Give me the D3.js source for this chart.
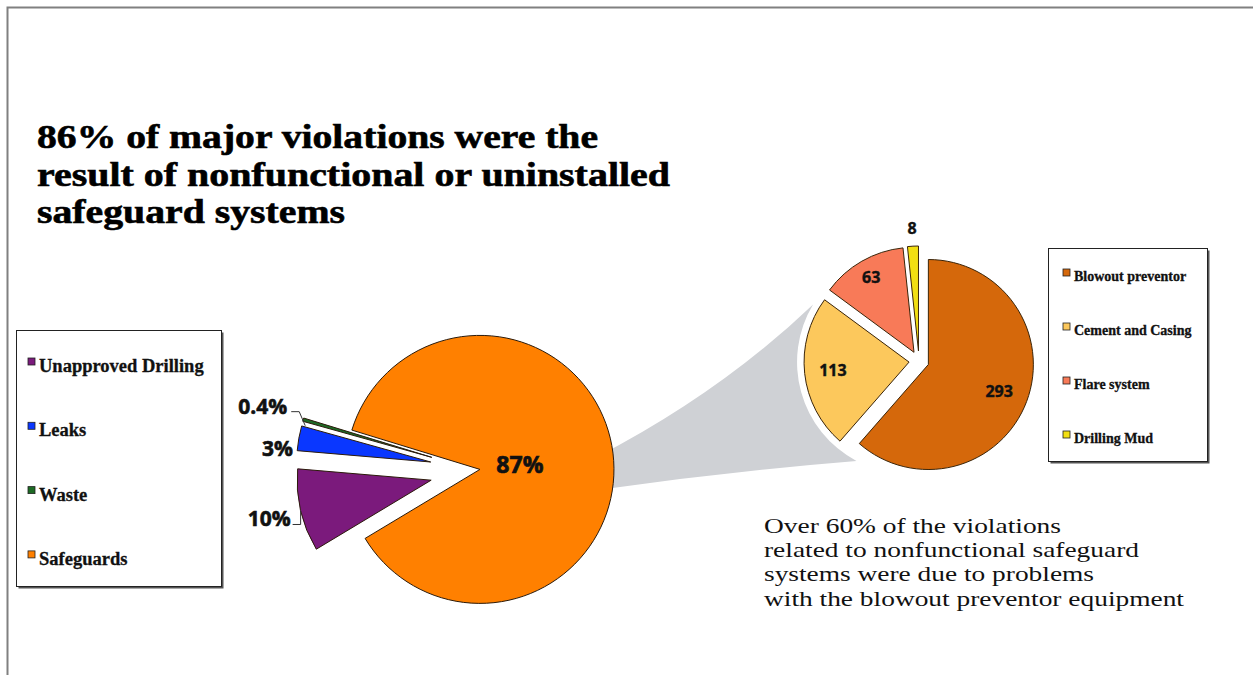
<!DOCTYPE html>
<html>
<head>
<meta charset="utf-8">
<script src="https://cdn.jsdelivr.net/npm/d3@7"></script>
<style>
  body { margin: 0; background: #fff; }
  svg { display: block; }
</style>
</head>
<body>
<script>
// Chart data.
const titleLines = [
  "86% of major violations were the",
  "result of nonfunctional or uninstalled",
  "safeguard systems"
];
const noteLines = [
  "Over 60% of the violations",
  "related to nonfunctional safeguard",
  "systems were due to problems",
  "with the blowout preventor equipment"
];
const mainCategories = ["Unapproved Drilling", "Leaks", "Waste", "Safeguards"];
const mainShares = [10, 3, 0.4, 87];
const mainLabels = ["10%", "3%", "0.4%", "87%"];
const subCategories = ["Blowout preventor", "Cement and Casing", "Flare system", "Drilling Mud"];
const subCounts = [293, 113, 63, 8];

const mainColors = ["#7b1a7c", "#0a37ff", "#1d6a24", "#ff8000"];
const subColors = ["#d5680b", "#fcc85c", "#f87a58", "#f2df12"];

const width = 1253, height = 675;
const rad = deg => deg * Math.PI / 180;

const svg = d3.select("body").append("svg")
  .attr("width", width)
  .attr("height", height);

// Frame (top and left rule only).
svg.append("path")
  .attr("d", "M7.5,675 V7.5 H1253")
  .attr("fill", "none")
  .attr("stroke", "#808080")
  .attr("stroke-width", 2);

// Title.
const titleWidths = [561, 633, 308];
svg.append("g").selectAll("text")
  .data(titleLines)
  .join("text")
    .attr("x", 37)
    .attr("y", (d, i) => 148 + i * 37.5)
    .attr("textLength", (d, i) => titleWidths[i])
    .attr("lengthAdjust", "spacingAndGlyphs")
    .attr("font-family", "'Liberation Serif', 'Times New Roman', serif")
    .attr("font-weight", "bold")
    .attr("font-size", 33.5)
    .attr("fill", "#000")
    .attr("stroke", "#000")
    .attr("stroke-width", 0.6)
    .text(d => d);

// Geometry of the two pies.
const left = {cx: 475, cy: 470, r: 134};
const right = {cx: 919, cy: 361, r: 105};
const leftExplode = [45, 45, 45, 5];
const rightExplode = 10;

const leftPie = d3.pie().sort(null).value(d => d)
  .startAngle(rad(239)).endAngle(rad(239 + 360));
const rightPie = d3.pie().sort(null).value(d => d);

const leftArcs = leftPie(mainShares);
const rightArcs = rightPie(subCounts);

const mid = a => (a.startAngle + a.endAngle) / 2;
const dir = ang => [Math.sin(ang), -Math.cos(ang)];

// Grey connector between the big slice and the breakdown pie.
(function() {
  const cement = rightArcs[1];
  const cm = dir(mid(cement));
  const ax = right.cx + cm[0] * rightExplode, ay = right.cy + cm[1] * rightExplode;
  const gr = right.r + 7;
  const a1 = rad(301), a2 = rad(208);
  const pB = [ax + Math.sin(a1) * gr, ay - Math.cos(a1) * gr];
  const pC = [ax + Math.sin(a2) * gr, ay - Math.cos(a2) * gr];
  const pA = [left.cx + Math.sin(rad(84)) * (left.r - 12), left.cy - Math.cos(rad(84)) * (left.r - 12)];
  const pD = [left.cx + Math.sin(rad(99)) * (left.r - 8), left.cy - Math.cos(rad(99)) * (left.r - 8)];
  const p = d3.path();
  p.moveTo(pA[0], pA[1]);
  p.quadraticCurveTo((pA[0] + pB[0]) / 2 + 16, (pA[1] + pB[1]) / 2 + 12, pB[0], pB[1]);
  p.arc(ax, ay, gr, a1 - Math.PI / 2, a2 - Math.PI / 2, true);
  p.quadraticCurveTo((pC[0] + pD[0]) / 2, (pC[1] + pD[1]) / 2 - 4, pD[0], pD[1]);
  p.closePath();
  svg.append("path")
    .attr("d", p.toString())
    .attr("fill", "#cfd1d5");
})();

// Left pie.
const arcL = d3.arc().innerRadius(0).outerRadius(left.r);
const gLeft = svg.append("g").attr("transform", `translate(${left.cx},${left.cy})`);

gLeft.selectAll("path")
  .data(leftArcs)
  .join("path")
    .attr("transform", (d, i) => {
      const v = dir(mid(d));
      return `translate(${v[0] * leftExplode[i]},${v[1] * leftExplode[i]})`;
    })
    .attr("d", arcL)
    .attr("fill", (d, i) => mainColors[i])
    .attr("stroke", "#2b1a0a")
    .attr("stroke-width", 1)
    .attr("stroke-linejoin", "round");

// Label placement for the left pie: offsets from the outer mid-point of each slice.
const leftLabelLayout = [
  {dx: -10, dy: 16, leader: [[0, 0], [0, 14], [-8, 14]]},
  {dx: -6, dy: 18, leader: null},
  {dx: -16, dy: -6, leader: [[2, 6], [-4, -8], [-12, -8]]},
  null
];

const labelFont = "'Open Sans', 'DejaVu Sans', sans-serif";

leftArcs.forEach((d, i) => {
  const v = dir(mid(d));
  const lay = leftLabelLayout[i];
  if (!lay) {
    const k = left.r * 0.3 + leftExplode[i];
    gLeft.append("text")
      .attr("x", v[0] * k)
      .attr("y", v[1] * k)
      .attr("text-anchor", "middle")
      .attr("dy", "0.35em")
      .attr("font-family", labelFont)
      .attr("font-weight", 700)
      .attr("font-size", 23)
      .attr("fill", "#111")
      .attr("stroke", "#111")
      .attr("stroke-width", 0.7)
      .text(mainLabels[i]);
    return;
  }
  const k = left.r + leftExplode[i];
  const px = v[0] * k, py = v[1] * k;
  if (lay.leader) {
    gLeft.append("path")
      .attr("d", d3.line()(lay.leader.map(q => [px + q[0], py + q[1]])))
      .attr("fill", "none")
      .attr("stroke", "#333")
      .attr("stroke-width", 1);
  }
  gLeft.append("text")
    .attr("x", px + lay.dx)
    .attr("y", py + lay.dy)
    .attr("text-anchor", "end")
    .attr("font-family", labelFont)
    .attr("font-weight", 700)
    .attr("font-size", 21)
    .attr("fill", "#111")
    .attr("stroke", "#111")
    .attr("stroke-width", 0.6)
    .text(mainLabels[i]);
});

// Right pie.
const arcR = d3.arc().innerRadius(0).outerRadius(right.r);
const gRight = svg.append("g").attr("transform", `translate(${right.cx},${right.cy})`);
const rightLabelRadius = [0.72, 0.73, 0.82, 1.17];

gRight.selectAll("path")
  .data(rightArcs)
  .join("path")
    .attr("transform", d => {
      const v = dir(mid(d));
      return `translate(${v[0] * rightExplode},${v[1] * rightExplode})`;
    })
    .attr("d", arcR)
    .attr("fill", (d, i) => subColors[i])
    .attr("stroke", "#3a2408")
    .attr("stroke-width", 1)
    .attr("stroke-linejoin", "round");

gRight.selectAll("text")
  .data(rightArcs)
  .join("text")
    .attr("x", (d, i) => dir(mid(d))[0] * (right.r * rightLabelRadius[i] + rightExplode))
    .attr("y", (d, i) => dir(mid(d))[1] * (right.r * rightLabelRadius[i] + rightExplode))
    .attr("dy", "0.35em")
    .attr("text-anchor", "middle")
    .attr("font-family", labelFont)
    .attr("font-weight", 700)
    .attr("font-size", 16)
    .attr("fill", "#111")
    .attr("stroke", "#111")
    .attr("stroke-width", 0.4)
    .text(d => d.data);

// Legends.
function legend(x, y, w, h, names, colors, firstY, step, fontSize, swatch) {
  const g = svg.append("g").attr("transform", `translate(${x},${y})`);
  g.append("rect")
    .attr("x", 2.5).attr("y", 2.5)
    .attr("width", w).attr("height", h)
    .attr("fill", "#555");
  g.append("rect")
    .attr("x", 0.5).attr("y", 0.5)
    .attr("width", w).attr("height", h)
    .attr("fill", "#fff")
    .attr("stroke", "#222")
    .attr("stroke-width", 1);
  const item = g.selectAll("g.item")
    .data(names)
    .join("g")
      .attr("class", "item")
      .attr("transform", (d, i) => `translate(0,${firstY + i * step})`);
  item.append("rect")
    .attr("x", swatch.x).attr("y", -swatch.s - 1)
    .attr("width", swatch.s).attr("height", swatch.s)
    .attr("fill", (d, i) => colors[i])
    .attr("stroke", "#222")
    .attr("stroke-width", 0.8);
  item.append("text")
    .attr("x", swatch.x + swatch.s + 4)
    .attr("y", 0)
    .attr("dy", "0.32em")
    .attr("font-family", "'Liberation Serif', 'Times New Roman', serif")
    .attr("font-weight", "bold")
    .attr("font-size", fontSize)
    .attr("fill", "#111")
    .attr("stroke", "#111")
    .attr("stroke-width", 0.3)
    .text(d => d);
}

legend(16, 330, 205, 256, mainCategories, mainColors, 36, 64.3, 18.5, {x: 12, s: 7});
legend(1048, 248, 159, 213, subCategories, subColors, 29, 54, 14, {x: 15, s: 7});

// Note under the breakdown pie.
const noteWidths = [297, 375, 330, 420];
svg.append("g").selectAll("text")
  .data(noteLines)
  .join("text")
    .attr("x", 764)
    .attr("y", (d, i) => 533 + i * 24.2)
    .attr("textLength", (d, i) => noteWidths[i])
    .attr("lengthAdjust", "spacingAndGlyphs")
    .attr("font-family", "'Liberation Serif', 'Times New Roman', serif")
    .attr("font-size", 21.5)
    .attr("fill", "#111")
    .text(d => d);
</script>
</body>
</html>
